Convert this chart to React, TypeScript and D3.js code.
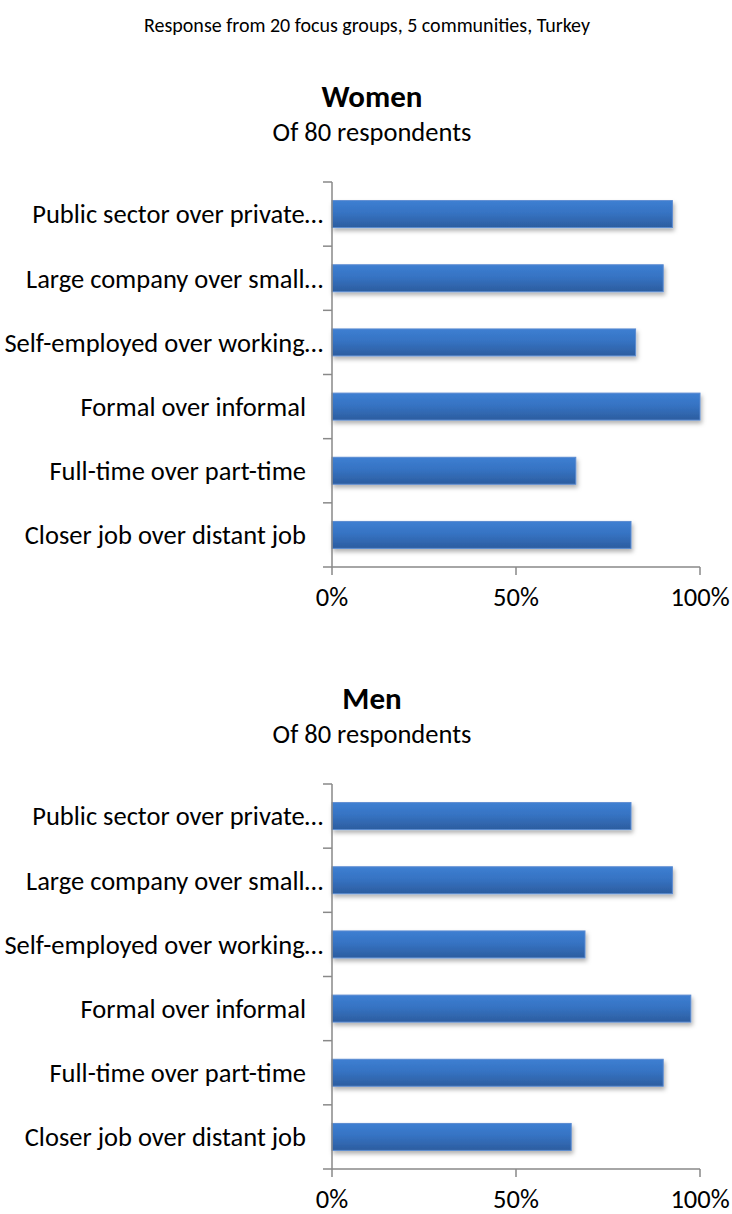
import React from "react";
import * as d3 from "d3";

const mainTitle = "Response from 20 focus groups, 5 communities, Turkey";
const categories = [
  "Public sector over private…",
  "Large company over small…",
  "Self-employed over working…",
  "Formal over informal",
  "Full-time over part-time",
  "Closer job over distant job",
];
const womenValues = [0.925, 0.9, 0.825, 1.0, 0.6625, 0.8125];
const menValues = [0.8125, 0.925, 0.6875, 0.975, 0.9, 0.65];
const xTicks = [0, 0.5, 1];
const panelTitles = ["Women", "Men"];
const panelSubtitles = ["Of 80 respondents", "Of 80 respondents"];

const FONT = "Carlito, Lato, 'Liberation Sans', sans-serif";
const AXIS = "#898989";
const LABEL_SIZE = 26.5;

function Panel({ title, subtitle, values, top, id }: { title: string; subtitle: string; values: number[]; top: number; id: string }) {
  const x0 = 332, x1 = 700;
  const y0 = top, y1 = top + 385;
  const x = d3.scaleLinear().domain([0, 1]).range([x0, x1]);
  const y = d3.scaleBand<string>().domain(categories).range([y0, y1]).padding(0);
  const step = y.step();
  const barH = step * 0.42;
  const boundaries = d3.range(categories.length + 1).map((i) => y0 + i * step);
  const cx = 372;
  return (
    <g>
      <text x={cx} y={top - 75} textAnchor="middle" fontWeight="bold" fontSize={31} fontFamily={FONT}>{title}</text>
      <text x={cx} y={top - 41} textAnchor="middle" fontSize={LABEL_SIZE} fontFamily={FONT}>{subtitle}</text>
      {categories.map((c, i) => {
        const truncated = c.endsWith("…");
        const yc = (y(c) as number) + step / 2;
        return (
          <g key={c}>
            <rect
              x={x(0)}
              y={yc - barH / 2}
              width={x(values[i]) - x(0)}
              height={barH}
              fill={`url(#grad-${id})`}
              stroke="#5b8bd1"
              strokeWidth={1}
              filter={`url(#shadow-${id})`}
            />
            <text
              x={truncated ? x0 - 9 : x0 - 26}
              y={yc}
              dy="0.35em"
              textAnchor="end"
              fontSize={LABEL_SIZE}
              fontFamily={FONT}
            >
              {c}
            </text>
          </g>
        );
      })}
      <line x1={x0} x2={x0} y1={y0} y2={y1} stroke={AXIS} strokeWidth={1.5} />
      {boundaries.map((b, i) => (
        <line key={i} x1={x0 - 9} x2={x0} y1={b} y2={b} stroke={AXIS} strokeWidth={1.5} />
      ))}
      <line x1={x0} x2={x1} y1={y1} y2={y1} stroke={AXIS} strokeWidth={1.5} />
      {xTicks.map((t) => (
        <g key={t}>
          <line x1={x(t)} x2={x(t)} y1={y1} y2={y1 + 8} stroke={AXIS} strokeWidth={1.5} />
          <text x={x(t)} y={y1 + 39} textAnchor="middle" fontSize={LABEL_SIZE} fontFamily={FONT}>
            {d3.format(".0%")(t)}
          </text>
        </g>
      ))}
    </g>
  );
}

export default function App() {
  const ids = ["w", "m"];
  return (
    <svg width={732} height={1214} style={{ position: "absolute", left: 0, top: 0, background: "#fff" }}>
      <defs>
        {ids.map((id) => (
          <React.Fragment key={id}>
            <linearGradient id={`grad-${id}`} x1="0" y1="0" x2="0" y2="1">
              <stop offset="0%" stopColor="#3d7fd2" />
              <stop offset="45%" stopColor="#3673c3" />
              <stop offset="100%" stopColor="#2c5d9f" />
            </linearGradient>
            <filter id={`shadow-${id}`} x="-5%" y="-30%" width="115%" height="180%">
              <feDropShadow dx="1.5" dy="3" stdDeviation="2" floodColor="#000" floodOpacity="0.3" />
            </filter>
          </React.Fragment>
        ))}
      </defs>
      <text x={367} y={32} textAnchor="middle" fontSize={20} fontFamily={FONT}>{mainTitle}</text>
      <Panel title={panelTitles[0]} subtitle={panelSubtitles[0]} values={womenValues} top={182} id="w" />
      <Panel title={panelTitles[1]} subtitle={panelSubtitles[1]} values={menValues} top={784} id="m" />
    </svg>
  );
}
